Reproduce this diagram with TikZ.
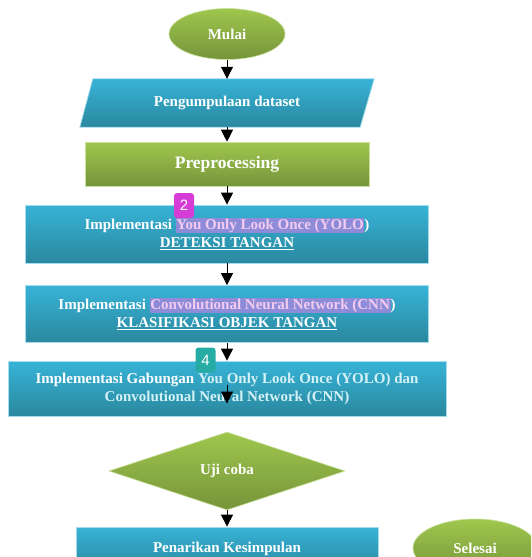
\documentclass[tikz,border=0pt]{standalone}
\usepackage{fontspec}
\setmainfont{Liberation Serif}
\newfontfamily\lencanafont{Liberation Sans}
\usetikzlibrary{shapes,arrows.meta,positioning,calc,backgrounds}

\definecolor{hijauatas}{HTML}{9FC74D}
\definecolor{hijaubawah}{HTML}{76943A}
\definecolor{biruatas}{HTML}{37B3D7}
\definecolor{birubawah}{HTML}{2A889F}
\definecolor{sorotungu}{HTML}{8E8CD8}
\definecolor{teksmerah}{HTML}{F4CBF0}
\definecolor{tekscyan}{HTML}{D4F2F6}
\definecolor{lencanaungu}{HTML}{D53DD6}
\definecolor{lencanatosca}{HTML}{26ACA5}

\newcommand{\sorot}[1]{{\setlength{\fboxsep}{0.6pt}\colorbox{sorotungu}{\textcolor{teksmerah}{#1}}}}

\begin{document}
\begin{tikzpicture}[x=1pt, y=1pt,
  teks/.style={text=white, font=\bfseries\fontsize{15}{18}\selectfont, align=center},
  hijau/.style={teks, top color=hijauatas, bottom color=hijaubawah, draw=hijauatas!55!white, line width=0.6pt},
  biru/.style={teks, top color=biruatas, bottom color=birubawah, draw=biruatas!45!white, line width=0.8pt},
  panah/.style={-{Triangle[width=12pt,length=12pt]}, line width=1pt, black},
  lencana/.style={rounded corners=3pt, minimum width=20pt, minimum height=25pt, inner sep=0pt, text=white, font=\lencanafont\fontsize{15}{15}\selectfont}]

\useasboundingbox (0,0) rectangle (531,-557);
\clip (0,0) rectangle (531,-557);

% alur utama
\node[hijau, ellipse, minimum width=116pt, minimum height=51pt] (mulai) at (227,-34) {Mulai};
\node[teks, rectangle, minimum width=294pt, minimum height=48pt, below of=mulai, node distance=69pt] (dataset) {Pengumpulaan dataset};
\node[hijau, rectangle, minimum width=284pt, minimum height=44pt, font=\bfseries\fontsize{17.5}{20}\selectfont, below of=dataset, node distance=61pt] (prepro) {Preprocessing};
\node[biru, rectangle, minimum width=403pt, minimum height=58pt, below of=prepro, node distance=70pt] (yolo) {Implementasi \sorot{You Only Look Once (YOLO})\\ \underline{DETEKSI TANGAN}};
\node[biru, rectangle, minimum width=403pt, minimum height=57pt, below of=yolo, node distance=80pt] (cnn) {Implementasi \sorot{Convolutional Neural Network (CNN})\\ \underline{KLASIFIKASI OBJEK TANGAN}};
\node[biru, rectangle, minimum width=438pt, minimum height=55pt, below of=cnn, node distance=74.5pt] (gabung) {Implementasi Gabungan \textcolor{tekscyan}{You Only Look Once (YOLO) dan}\\ \textcolor{tekscyan}{Convolutional Neural Network (CNN)}};
\node[hijau, diamond, minimum width=236pt, minimum height=78pt, inner sep=0pt, below of=gabung, node distance=82.5pt] (ujicoba) {Uji coba};
\node[biru, rectangle, minimum width=302pt, minimum height=44pt, below of=ujicoba, node distance=78pt] (tarik) {Penarikan Kesimpulan};
\node[hijau, ellipse, minimum width=124pt, minimum height=58pt, right of=tarik, node distance=248pt, yshift=1pt] (selesai) {Selesai};

% jajar genjang di belakang teks dataset
\begin{pgfonlayer}{background}
\path[biru] ($(dataset.north west)+(13,0)$) -- (dataset.north east) -- ($(dataset.south east)+(-14,0)$) -- (dataset.south west) -- cycle;
\end{pgfonlayer}

% lencana
\node[lencana, fill=lencanaungu] (lencana2) at (184,-205.5) {2};
\node[lencana, fill=lencanatosca] (lencana4) at (205.5,-360) {4};

% panah
\coordinate (gabatas) at ($(gabung.center)+(0,4)$);
\coordinate (gabujung) at ($(gabung.center)+(0,-15)$);
\draw[panah] (mulai) -- (dataset);
\draw[panah] (dataset) -- (prepro);
\draw[panah] (prepro) -- (yolo);
\draw[panah] (yolo) -- (cnn);
\draw[panah] (cnn) -- (gabung);
\draw[panah] (gabatas) -- (gabujung);
\draw[panah] (ujicoba) -- (tarik);
\end{tikzpicture}
\end{document}
